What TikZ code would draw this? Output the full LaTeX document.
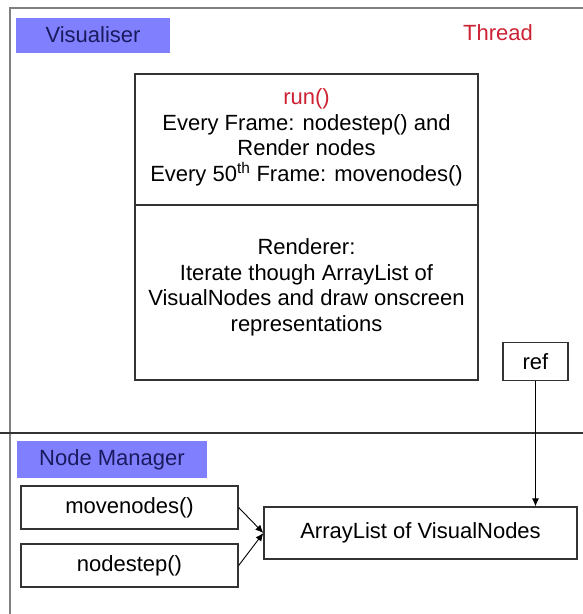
\documentclass[tikz,border=0pt]{standalone}
\usepackage{fontspec}
\setmainfont{Liberation Sans}
\usetikzlibrary{arrows.meta}
\definecolor{framegrey}{HTML}{808080}
\definecolor{boxline}{HTML}{333333}
\definecolor{labelfill}{HTML}{8080FF}
\definecolor{labeltext}{HTML}{1A1A5E}
\definecolor{threadred}{HTML}{CC2233}
\tikzset{
  txt/.style={font=\fontsize{22}{25.5}\selectfont, inner sep=0pt, align=center},
  frameline/.style={draw=framegrey, line width=2.4pt},
  divline/.style={draw=boxline, line width=1.3pt},
  plainbox/.style={draw=boxline, line width=1.3pt, fill=white, txt},
  tagbox/.style={fill=labelfill, txt, text=labeltext},
  conn/.style={draw=black, line width=0.9pt, -{Latex[length=8pt,width=7pt]}},
}
\begin{document}
\begin{tikzpicture}[x=1pt, y=-1pt]
  \useasboundingbox (0,0) rectangle (583,614);
  \fill[white] (0,0) rectangle (583,614);

  % outer thread frame and the section divider
  \draw[frameline] (10,614) -- (10,8) -- (583,8);
  \draw[divline] (0,433) -- (583,433);

  % section tags
  \node[tagbox, minimum width=154pt, minimum height=35pt] (vistag) at (93,35) {Visualiser};
  \node[txt, text=threadred] (thread) at (498,33) {Thread};
  \node[tagbox, minimum width=190pt, minimum height=37pt] (nmtag) at (112,459.5) {Node Manager};

  % visualiser class box with two compartments
  \node[plainbox, minimum width=343pt, minimum height=306pt] (vis) at (306.5,227) {};
  \coordinate (splitl) at (135,205);
  \coordinate (splitr) at (478,205);
  \draw[divline] (splitl) -- (splitr);
  \node[txt] (runtxt) at (306.5,137.5) {\textcolor{threadred}{run()}\\
    Every Frame: nodestep() and\\
    Render nodes\\
    Every 50\textsuperscript{th} Frame: movenodes()};
  \node[txt] (rendtxt) at (306.5,287.5) {Renderer:\\
    Iterate though ArrayList of\\
    VisualNodes and draw onscreen\\
    representations};

  % reference holder
  \node[plainbox, minimum width=65pt, minimum height=38pt] (ref) at (535.5,361.5) {ref};

  % node manager contents
  \node[plainbox, minimum width=217pt, minimum height=43pt] (move) at (129.5,507.5) {movenodes()};
  \node[plainbox, minimum width=217pt, minimum height=43pt] (step) at (129.5,565.5) {nodestep()};
  \node[plainbox, minimum width=313pt, minimum height=52pt] (list) at (420.5,533) {ArrayList of VisualNodes};

  % connectors
  \draw[conn] (ref.south) -- (ref.south |- list.north);
  \draw[conn] (move.east) -- (list.west);
  \draw[conn] (step.east) -- (list.west);
\end{tikzpicture}
\end{document}
